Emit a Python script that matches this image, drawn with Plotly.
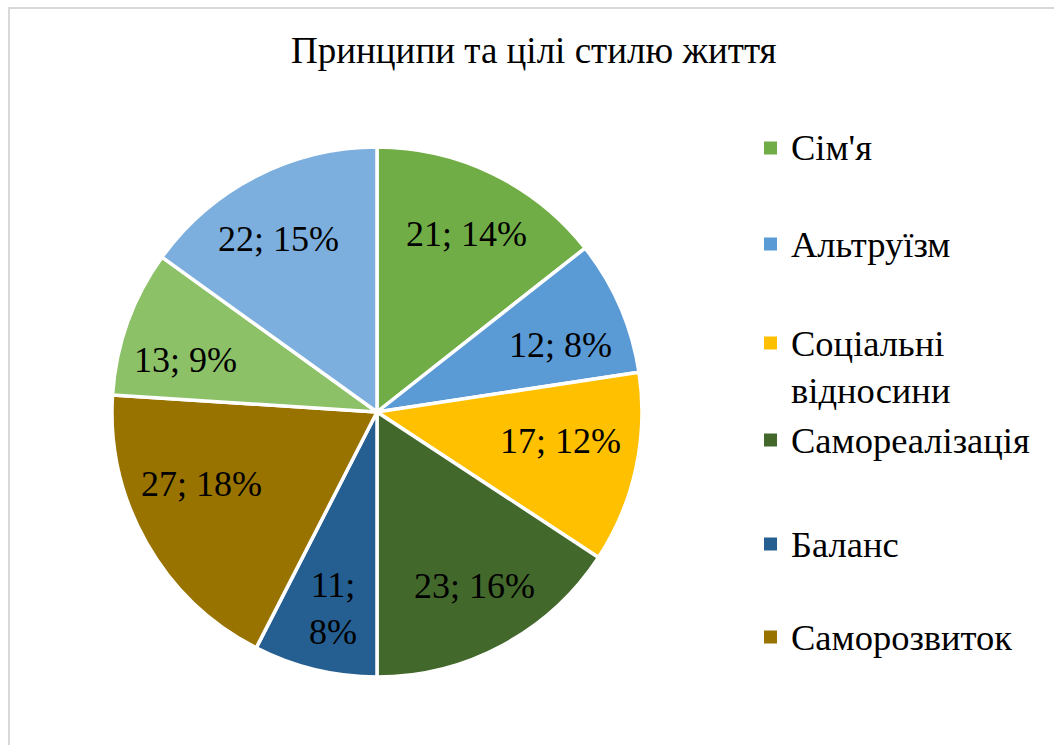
import math
import plotly.graph_objects as go

# ---- data ----
title_text = "Принципи та цілі стилю життя"
categories = ["Сім'я", "Альтруїзм", "Соціальні відносини", "Самореалізація",
              "Баланс", "Саморозвиток", "Сім'я ", "Альтруїзм "]
values = [21, 12, 17, 23, 11, 27, 13, 22]
legend_shown = 6  # Excel legend shows only the first six entries
colors = ["#70AD47", "#5B9BD5", "#FFC000", "#43682B",
          "#255E91", "#997300", "#8CC168", "#7CAFDD"]

# ---- layout / style ----
W, H = 1054, 745
FONT = "Times New Roman"
cx, cy, R = 377, 412, 265          # pie geometry in pixels
label_radius = 0.745               # fraction of R for data labels
label_nudge = [(3, 0), (2, 11), (-9, -13), (4, 0), (2, 5), (-4, -25), (-6, 15), (-8, 3)]
legend_y = [148, 244, 343, 440, 544, 637]
LEG_SIZE = 36.5


def px(x):
    return x / W


def py(y):
    return 1 - y / H


fig = go.Figure()
fig.add_trace(go.Pie(
    labels=categories, values=values, sort=False, direction="clockwise",
    rotation=0, marker=dict(colors=colors, line=dict(color="white", width=3.5)),
    textinfo="none", hoverinfo="label+value+percent", showlegend=False,
    domain=dict(x=[px(cx - R), px(cx + R)], y=[py(cy + R), py(cy - R)]),
))

annotations = []
total = sum(values)
cum = 0
for i, v in enumerate(values):
    mid = (cum + v / 2) / total * 2 * math.pi
    cum += v
    pct = round(v / total * 100)
    txt = f"{v}; {pct}%"
    if v / total < 0.08:
        txt = f"{v};<br>{pct}%"
    r = label_radius * R
    lx = cx + r * math.sin(mid) + label_nudge[i][0]
    ly = cy - r * math.cos(mid) + label_nudge[i][1]
    annotations.append(dict(x=px(lx), y=py(ly), xref="paper", yref="paper",
                            text=txt, showarrow=False,
                            font=dict(family=FONT, size=36, color="black"),
                            xanchor="center", yanchor="middle"))

# title
annotations.append(dict(x=px(534), y=py(51), xref="paper", yref="paper",
                        text=title_text, showarrow=False,
                        font=dict(family=FONT, size=37, color="black"),
                        xanchor="center", yanchor="middle"))

# manual legend (only first six entries visible, as in the original)
shapes = []
for i in range(legend_shown):
    yc = legend_y[i]
    shapes.append(dict(type="rect", xref="paper", yref="paper",
                       x0=px(764), x1=px(777), y0=py(yc + 6.5), y1=py(yc - 6.5),
                       fillcolor=colors[i], line=dict(width=0)))
    name = categories[i]
    if name == "Соціальні відносини":
        annotations.append(dict(x=px(789), y=py(yc - 22), xref="paper", yref="paper",
                                text="Соціальні<br>відносини", showarrow=False, align="left",
                                font=dict(family=FONT, size=LEG_SIZE, color="black"),
                                xanchor="left", yanchor="top"))
    else:
        annotations.append(dict(x=px(789), y=py(yc), xref="paper", yref="paper",
                                text=name, showarrow=False, align="left",
                                font=dict(family=FONT, size=LEG_SIZE, color="black"),
                                xanchor="left", yanchor="middle"))

# chart area border
shapes.append(dict(type="rect", xref="paper", yref="paper",
                   x0=px(9), x1=px(W + 20), y0=py(H + 20), y1=py(8),
                   line=dict(color="#D9D9D9", width=2), fillcolor="rgba(0,0,0,0)"))

fig.update_layout(
    width=W, height=H, margin=dict(l=0, r=0, t=0, b=0),
    paper_bgcolor="white", plot_bgcolor="white",
    annotations=annotations, shapes=shapes, showlegend=False,
)

fig.write_html("out.html", config={"displayModeBar": False},
               post_script="document.body.style.margin='0px';")
